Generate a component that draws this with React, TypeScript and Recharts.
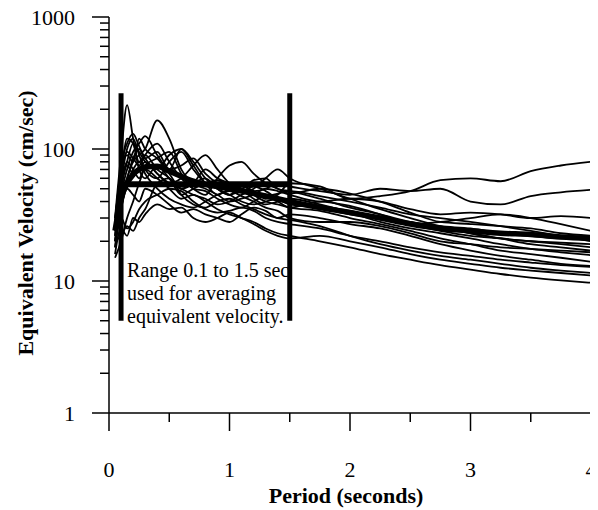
import React from 'react';
import { LineChart, Line, XAxis, YAxis, ReferenceLine } from 'recharts';

// period grid (seconds) shared by every record
const periods = [0.05, 0.1, 0.15, 0.2, 0.25, 0.3, 0.4, 0.5, 0.6, 0.7, 0.8, 0.9, 1.0, 1.1, 1.2, 1.3, 1.4, 1.5, 1.75, 2.0, 2.25, 2.5, 2.75, 3.0, 3.25, 3.5, 3.75, 4.0];

// equivalent velocity (cm/sec) of each record
const rec01 = [30, 90, 215, 120, 70, 60, 75, 60, 50, 55, 60, 50, 45, 52, 48, 42, 45, 55, 52, 42, 44, 48, 58, 60, 57, 68, 75, 80];
const rec02 = [25, 60, 120, 110, 80, 90, 70, 60, 45, 50, 55, 58, 52, 50, 48, 50, 55, 52, 48, 45, 50, 48, 50, 40, 38, 44, 47, 49];
const rec03 = [20, 40, 60, 80, 90, 100, 165, 120, 70, 55, 50, 45, 40, 42, 45, 50, 48, 45, 40, 42, 40, 35, 32, 33, 32, 30, 31, 30];
const rec04 = [22, 55, 100, 120, 90, 70, 60, 80, 95, 70, 55, 50, 45, 40, 38, 40, 42, 40, 37, 34, 30, 28, 26, 25, 23, 22, 21, 21];
const rec05 = [28, 70, 90, 80, 120, 100, 85, 65, 50, 55, 70, 60, 55, 50, 58, 60, 50, 48, 42, 36, 32, 28, 25, 23, 21, 20, 19, 18];
const rec06 = [20, 45, 70, 95, 110, 125, 90, 70, 100, 80, 60, 50, 45, 48, 42, 38, 40, 42, 38, 33, 28, 25, 23, 21, 19, 17.5, 16.5, 15.7];
const rec07 = [18, 30, 25, 28, 35, 40, 45, 50, 48, 40, 35, 33, 34, 36, 34, 30, 28, 27, 25, 22, 20, 18, 16.5, 15.5, 14.5, 13.8, 13.2, 12.8];
const rec08 = [20, 22, 26, 24, 30, 35, 55, 60, 45, 38, 36, 40, 42, 38, 35, 32, 30, 29, 26, 22, 19, 17, 15.5, 14.5, 13.5, 12.6, 12, 11.5];
const rec09 = [15, 20, 30, 40, 55, 70, 60, 50, 42, 45, 40, 35, 32, 30, 28, 25, 23, 22, 20, 18, 16, 14.5, 13.2, 12.2, 11.3, 10.6, 10.1, 9.7];
const rec10 = [25, 50, 80, 110, 95, 80, 70, 90, 100, 75, 55, 45, 50, 55, 45, 40, 38, 36, 34, 30, 27, 24, 21, 19, 17, 16, 15, 14];
const rec11 = [30, 60, 75, 65, 70, 80, 65, 55, 60, 75, 90, 70, 55, 50, 45, 44, 46, 48, 44, 40, 36, 32, 30, 28, 26, 24, 22, 20];
const rec12 = [26, 65, 95, 85, 75, 90, 110, 80, 60, 50, 45, 60, 75, 80, 65, 55, 50, 46, 50, 46, 40, 33, 28, 27, 26, 25, 23, 22];
const rec13 = [24, 45, 60, 85, 100, 85, 65, 55, 50, 45, 42, 38, 40, 45, 50, 60, 70, 60, 50, 42, 35, 30, 26, 23, 21, 19, 18, 17];
const rec14 = [20, 35, 50, 45, 40, 50, 45, 38, 33, 35, 32, 30, 28, 32, 36, 34, 30, 32, 30, 27, 25, 22, 19, 17, 15.5, 14.5, 13.5, 13];
const rec15 = [26, 75, 110, 130, 105, 85, 95, 70, 75, 85, 65, 55, 50, 48, 52, 48, 42, 38, 36, 32, 30, 27, 28, 30, 32, 30, 27, 24];
const rec16 = [22, 50, 80, 70, 60, 75, 85, 95, 65, 50, 48, 42, 38, 36, 40, 44, 40, 36, 40, 37, 32, 27, 24, 22, 21, 20, 19.5, 19];
const rec17 = [18, 35, 55, 70, 80, 65, 50, 42, 38, 36, 40, 45, 48, 44, 40, 36, 34, 30, 28, 28, 26, 23, 20, 19, 18, 17.5, 17, 16.5];
const rec18 = [16, 25, 22, 30, 28, 32, 38, 35, 36, 30, 28, 30, 33, 30, 27, 24, 22, 21, 22, 20, 18, 16, 14.5, 13.5, 12.6, 12, 11.5, 11];

// thick mean curve
const meanVelocity = [24, 42, 55, 64, 70, 73, 74, 68, 62, 57, 54, 52, 50, 48, 46, 44, 42, 40, 36, 33, 30, 27, 25, 24, 23, 22.5, 21.5, 21];

// averaging window and its average
const averageWindow = [0.1, 1.5];
const averageVelocity = 54;
const barRange = [5, 265];

const xTicks = [0, 0.5, 1, 1.5, 2, 2.5, 3, 3.5, 4];
const xLabels = [0, 1, 2, 3, 4];
const yTicks = [1, 2, 3, 4, 5, 6, 7, 8, 9, 10, 20, 30, 40, 50, 60, 70, 80, 90, 100, 200, 300, 400, 500, 600, 700, 800, 900, 1000];
const yLabels = [1, 10, 100, 1000];
const noteLines = ['Range 0.1 to 1.5 sec', 'used for averaging', 'equivalent velocity.'];

const records = [rec01, rec02, rec03, rec04, rec05, rec06, rec07, rec08, rec09, rec10, rec11, rec12, rec13, rec14, rec15, rec16, rec17, rec18];

const rows = periods.map((p, i) => {
  const row: any = { period: p, mean: meanVelocity[i] };
  records.forEach((r, k) => {
    row[`r${k}`] = r[i];
  });
  return row;
});
const avgRows = averageWindow.map((p) => ({ period: p, avg: averageVelocity }));

const serif = { fontFamily: 'Liberation Serif, DejaVu Serif, serif' };

const YTick = ({ x, y, payload }: any) => {
  const major = yLabels.includes(payload.value);
  return (
    <g>
      <line x1={x - (major ? 17 : 9)} x2={x} y1={y} y2={y} stroke="#000" strokeWidth={1.5} />
      {major && (
        <text x={x - 34} y={y + 7.5} textAnchor="end" fontSize={22} style={serif} fill="#000">
          {payload.value}
        </text>
      )}
    </g>
  );
};

const XTick = ({ x, y, payload }: any) => {
  const major = xLabels.includes(payload.value);
  return (
    <g>
      <line x1={x} x2={x} y1={y} y2={y + (major ? 18 : 9)} stroke="#000" strokeWidth={1.5} />
      {major && (
        <text x={x} y={y + 64} textAnchor="middle" fontSize={22} style={serif} fill="#000">
          {payload.value}
        </text>
      )}
    </g>
  );
};

const RangeNote = ({ viewBox }: any) => {
  if (!viewBox) return null;
  const bottom = viewBox.y + viewBox.height;
  return (
    <text x={viewBox.x + 6} y={bottom - 44} fontSize={20} style={serif} fill="#000">
      {noteLines.map((t, i) => (
        <tspan key={i} x={viewBox.x + 6} dy={i === 0 ? 0 : 23}>
          {t}
        </tspan>
      ))}
    </text>
  );
};

export default function App() {
  return (
    <div style={{ width: 590, height: 508, marginTop: -8, background: '#fff', ...serif }}>
      <LineChart width={590} height={508} data={rows} margin={{ top: 17, right: 7, left: 0, bottom: 5 }} style={serif}>
        <XAxis
          dataKey="period"
          type="number"
          domain={[0, 4]}
          ticks={xTicks}
          interval={0}
          tickSize={0}
          tickMargin={0}
          tickLine={false}
          tick={<XTick />}
          height={90}
          axisLine={{ stroke: '#000', strokeWidth: 1.5 }}
        />
        <YAxis
          scale="log"
          domain={[1, 1000]}
          ticks={yTicks}
          interval={0}
          tickSize={0}
          tickMargin={0}
          tickLine={false}
          tick={<YTick />}
          width={101}
          axisLine={{ stroke: '#000', strokeWidth: 1.5 }}
          allowDataOverflow
        />
        {records.map((_, k) => (
          <Line
            key={k}
            dataKey={`r${k}`}
            type="monotone"
            stroke="#000"
            strokeWidth={1.8}
            dot={false}
            isAnimationActive={false}
          />
        ))}
        <Line dataKey="mean" type="monotone" stroke="#000" strokeWidth={5.5} dot={false} isAnimationActive={false} />
        <Line data={avgRows} dataKey="avg" type="linear" stroke="#000" strokeWidth={6} dot={false} isAnimationActive={false} />
        <ReferenceLine
          segment={[
            { x: averageWindow[0], y: barRange[0] },
            { x: averageWindow[0], y: barRange[1] },
          ]}
          stroke="#000"
          strokeWidth={5}
          label={<RangeNote />}
        />
        <ReferenceLine
          segment={[
            { x: averageWindow[1], y: barRange[0] },
            { x: averageWindow[1], y: barRange[1] },
          ]}
          stroke="#000"
          strokeWidth={5}
        />
        <text
          x={25}
          y={223}
          transform="rotate(-90, 25, 223)"
          textAnchor="middle"
          fontSize={22}
          fontWeight="bold"
          style={serif}
          fill="#000"
        >
          Equivalent Velocity (cm/sec)
        </text>
        <text x={338} y={503} textAnchor="middle" fontSize={22} fontWeight="bold" style={serif} fill="#000">
          Period (seconds)
        </text>
      </LineChart>
    </div>
  );
}
